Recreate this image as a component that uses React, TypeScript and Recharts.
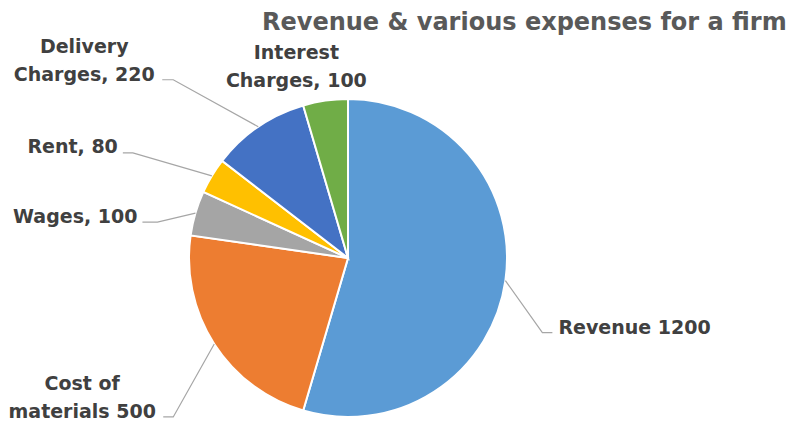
import React from 'react';
import { PieChart, Pie, Cell } from 'recharts';

const title = 'Revenue & various expenses for a firm';
const categories = ['Revenue', 'Cost of materials', 'Wages', 'Rent', 'Delivery Charges', 'Interest Charges'];
const values = [1200, 500, 100, 80, 220, 100];
const labelTexts = [
  ['Revenue 1200'],
  ['Cost of', 'materials 500'],
  ['Wages, 100'],
  ['Rent, 80'],
  ['Delivery', 'Charges, 220'],
  ['Interest', 'Charges, 100'],
];
const colors = ['#5B9BD5', '#ED7D31', '#A5A5A5', '#FFC000', '#4472C4', '#70AD47'];

const data = categories.map((name, i) => ({ name, value: values[i] }));

// label layout: offsets relative to the slice's outer-edge point at its mid angle
// text offset gives the first line's baseline
type Layout = { elbow: number[] | null; end: number[] | null; text: number[]; anchor: 'start' | 'middle' | 'end' };
const layouts: Layout[] = [
  { elbow: [37, 52], end: [47, 52], text: [53, 53], anchor: 'start' },
  { elbow: [-41, 73], end: [-51, 73], text: [-132, 46], anchor: 'middle' },
  { elbow: [-38, 9], end: [-53, 9], text: [-58, 10], anchor: 'end' },
  { elbow: [-79, -23], end: [-89, -23], text: [-94, -23], anchor: 'end' },
  { elbow: [-85, -47], end: [-96, -47], text: [-174, -74], anchor: 'middle' },
  { elbow: null, end: null, text: [-29, -42], anchor: 'middle' },
];

const FONT = "'DejaVu Sans', 'Liberation Sans', sans-serif";
const LINE_H = 28;

const renderLabel = (props: any) => {
  const { cx, cy, midAngle, outerRadius, index } = props;
  const rad = Math.PI / 180;
  const ex = cx + outerRadius * Math.cos(-midAngle * rad);
  const ey = cy + outerRadius * Math.sin(-midAngle * rad);
  const lay = layouts[index];
  const lines = labelTexts[index];
  const tx = ex + lay.text[0];
  const ty = ey + lay.text[1];
  return (
    <g key={`lbl-${index}`}>
      {lay.elbow && lay.end && (
        <polyline
          points={`${ex},${ey} ${ex + lay.elbow[0]},${ey + lay.elbow[1]} ${ex + lay.end[0]},${ey + lay.end[1]}`}
          fill="none"
          stroke="#a6a6a6"
          strokeWidth={1.2}
        />
      )}
      <text
        x={tx}
        y={ty}
        textAnchor={lay.anchor}
        fontFamily={FONT}
        fontWeight="bold"
        fontSize={19}
        fill="#404040"
      >
        {lines.map((l, i) => (
          <tspan key={i} x={tx} dy={i === 0 ? 0 : LINE_H}>
            {l}
          </tspan>
        ))}
      </text>
    </g>
  );
};

export default function App() {
  return (
    <div style={{ position: 'absolute', left: 0, top: 0, width: 800, height: 437, background: '#fff' }}>
      <PieChart width={800} height={437} margin={{ top: 0, right: 0, bottom: 0, left: 0 }}>
        <Pie
          data={data}
          dataKey="value"
          nameKey="name"
          cx={348}
          cy={258}
          outerRadius={159}
          startAngle={90}
          endAngle={-270}
          stroke="#ffffff"
          strokeWidth={2}
          label={renderLabel}
          labelLine={false}
          isAnimationActive={false}
        >
          {data.map((d, i) => (
            <Cell key={d.name} fill={colors[i]} />
          ))}
        </Pie>
      </PieChart>
      <svg width={800} height={45} style={{ position: 'absolute', left: 0, top: 0 }}>
        <text x={262} y={30} fontFamily={FONT} fontWeight="bold" fontSize={24} fill="#595959">
          {title}
        </text>
      </svg>
    </div>
  );
}
